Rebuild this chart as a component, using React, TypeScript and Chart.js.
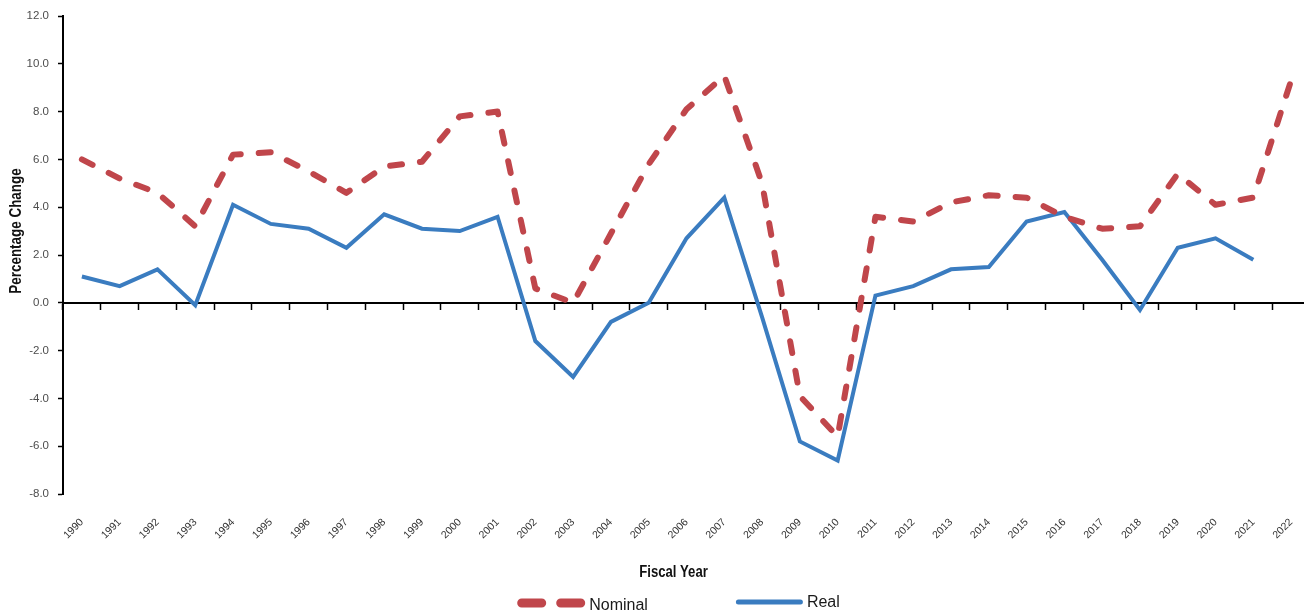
import React, { useEffect, useRef } from "react";
import { Chart, registerables } from "chart.js";

Chart.register(...registerables);

const years = [
  "1990", "1991", "1992", "1993", "1994", "1995", "1996", "1997", "1998", "1999",
  "2000", "2001", "2002", "2003", "2004", "2005", "2006", "2007", "2008", "2009",
  "2010", "2011", "2012", "2013", "2014", "2015", "2016", "2017", "2018", "2019",
  "2020", "2021", "2022",
];

const nominal = [
  6.0, 5.2, 4.6, 3.2, 6.2, 6.3, 5.5, 4.6, 5.7, 5.9,
  7.8, 8.0, 0.6, 0.0, 2.9, 5.8, 8.1, 9.5, 5.0, -3.9,
  -5.6, 3.6, 3.4, 4.2, 4.5, 4.4, 3.6, 3.1, 3.2, 5.4,
  4.1, 4.4, 9.3,
];

const real = [
  1.1, 0.7, 1.4, -0.1, 4.1, 3.3, 3.1, 2.3, 3.7, 3.1,
  3.0, 3.6, -1.6, -3.1, -0.8, 0.0, 2.7, 4.4, -0.6, -5.8,
  -6.6, 0.3, 0.7, 1.4, 1.5, 3.4, 3.8, 1.8, -0.3, 2.3,
  2.7, 1.8, null,
];

const seriesNames = ["Nominal", "Real"];
const yMin = -8;
const yMax = 12;
const yStep = 2;
const yTitle = "Percentage Change";
const xTitle = "Fiscal Year";

const RED = "#C0464B";
const BLUE = "#3A7CC0";
const SANS = "'Liberation Sans', Arial, sans-serif";

const decorPlugin = {
  id: "decor",
  afterDraw(chart: any) {
    const { ctx, chartArea } = chart;
    const { left, right, top, bottom } = chartArea;
    ctx.save();
    // Y title (condensed)
    ctx.save();
    ctx.translate(left - 46, top + 215);
    ctx.rotate(-Math.PI / 2);
    ctx.scale(0.84, 1);
    ctx.font = `bold 16px ${SANS}`;
    ctx.fillStyle = "#111";
    ctx.textAlign = "center";
    ctx.textBaseline = "middle";
    ctx.fillText(yTitle, 0, 0);
    ctx.restore();

    // X title (condensed)
    ctx.save();
    ctx.translate((left + right) / 2 - 13, bottom + 79);
    ctx.scale(0.82, 1);
    ctx.font = `bold 16px ${SANS}`;
    ctx.fillStyle = "#111";
    ctx.textAlign = "center";
    ctx.textBaseline = "middle";
    ctx.fillText(xTitle, 0, 0);
    ctx.restore();

    // Legend
    ctx.font = `16px ${SANS}`;
    const w1 = ctx.measureText(seriesNames[0]).width;
    const w2 = ctx.measureText(seriesNames[1]).width;
    const s1 = 68, s2 = 67, g = 4, gap = 88;
    const total = s1 + g + w1 + gap + s2 + g + w2;
    let x = (left + right) / 2 - 8 - total / 2;
    const ly = bottom + 109;

    ctx.strokeStyle = RED;
    ctx.lineWidth = 9;
    ctx.lineCap = "round";
    ctx.setLineDash([20, 19]);
    ctx.beginPath();
    ctx.moveTo(x + 4.5, ly);
    ctx.lineTo(x + s1 - 4.5, ly);
    ctx.stroke();
    ctx.setLineDash([]);
    x += s1 + g;
    ctx.fillStyle = "#1a1a1a";
    ctx.textAlign = "left";
    ctx.textBaseline = "alphabetic";
    ctx.fillText(seriesNames[0], x, ly + 7);
    x += w1 + gap;

    ctx.strokeStyle = BLUE;
    ctx.lineWidth = 5;
    ctx.beginPath();
    ctx.moveTo(x + 2.5, ly - 1);
    ctx.lineTo(x + s2 - 2.5, ly - 1);
    ctx.stroke();
    x += s2 + g;
    ctx.fillText(seriesNames[1], x, ly + 4);
    ctx.restore();
  },
};

export default function App() {
  const canvasRef = useRef<HTMLCanvasElement | null>(null);

  useEffect(() => {
    const canvas = canvasRef.current;
    if (!canvas) return;
    const chart = new Chart(canvas, {
      type: "line",
      data: {
        labels: years,
        datasets: [
          {
            label: seriesNames[0],
            data: nominal,
            borderColor: RED,
            backgroundColor: RED,
            borderWidth: 6,
            borderDash: [12, 18],
            borderCapStyle: "round",
            borderJoinStyle: "round",
            pointRadius: 0,
            tension: 0,
            xAxisID: "x",
            yAxisID: "y",
          },
          {
            label: seriesNames[1],
            data: real,
            borderColor: BLUE,
            backgroundColor: BLUE,
            borderWidth: 4,
            pointRadius: 0,
            tension: 0,
            spanGaps: false,
            xAxisID: "x",
            yAxisID: "y",
          },
        ],
      },
      options: {
        animation: false,
        responsive: true,
        maintainAspectRatio: false,
        layout: { padding: { left: 0, right: 2, top: 16, bottom: 0 } },
        plugins: {
          legend: { display: false },
          tooltip: { enabled: false },
          title: { display: false },
        },
        scales: {
          x: {
            type: "category",
            position: { y: 0 } as any,
            offset: true,
            grid: {
              display: true,
              offset: true,
              drawOnChartArea: false,
              drawTicks: true,
              tickLength: 6,
              tickColor: "#000",
              tickWidth: 1.5,
            },
            border: { display: true, color: "#000", width: 2 },
            ticks: { display: false },
            afterFit: (scale: any) => {
              scale.height = 0;
              scale.paddingLeft = 0;
              scale.paddingRight = 0;
            },
          },
          x2: {
            type: "category",
            position: "bottom",
            labels: years,
            offset: true,
            grid: { display: false, drawTicks: false, offset: true },
            border: { display: false },
            ticks: {
              autoSkip: false,
              minRotation: 45,
              maxRotation: 45,
              padding: 22,
              color: "#333",
              font: { family: SANS, size: 10.5 },
            },
            afterFit: (scale: any) => {
              scale.height = 120;
              scale.paddingLeft = 0;
              scale.paddingRight = 0;
            },
          },
          y: {
            type: "linear",
            position: "left",
            min: yMin,
            max: yMax,
            ticks: {
              stepSize: yStep,
              padding: 9,
              color: "#4d4d4d",
              font: { family: SANS, size: 11.5 },
              callback: (v: any) => Number(v).toFixed(1),
            },
            grid: {
              display: true,
              drawOnChartArea: false,
              drawTicks: true,
              tickLength: 5,
              tickColor: "#000",
              tickWidth: 1.5,
            },
            border: { display: true, color: "#000", width: 2 },
            afterFit: (scale: any) => {
              scale.width = 63;
            },
          },
        },
      },
      plugins: [decorPlugin],
    });
    return () => chart.destroy();
  }, []);

  return (
    <div
      style={{
        position: "fixed",
        left: 0,
        top: 0,
        width: "1304px",
        height: "614px",
        overflow: "hidden",
        background: "#fff",
      }}
    >
      <div style={{ position: "relative", width: "1312px", height: "614px" }}>
        <canvas ref={canvasRef} />
      </div>
    </div>
  );
}
